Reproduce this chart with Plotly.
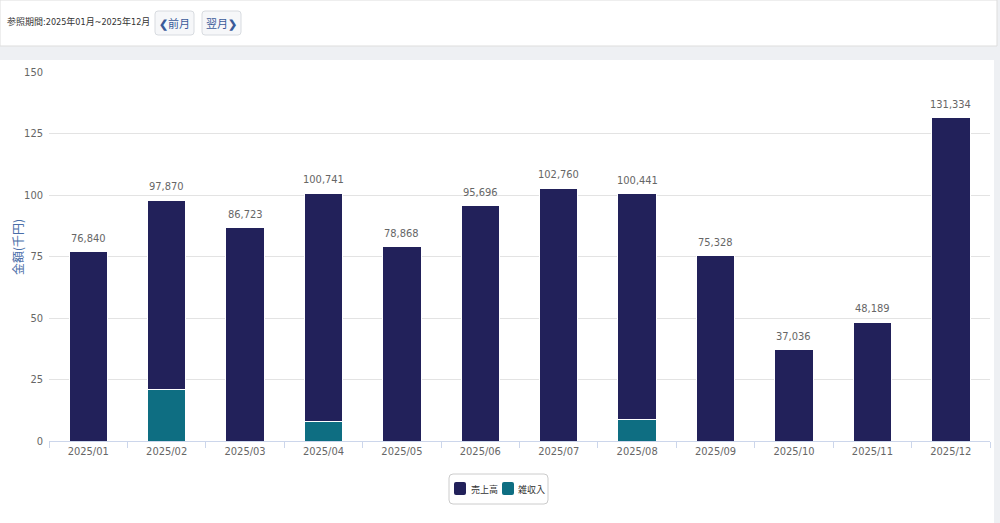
import plotly.graph_objects as go

months = ["2025/01", "2025/02", "2025/03", "2025/04", "2025/05", "2025/06",
          "2025/07", "2025/08", "2025/09", "2025/10", "2025/11", "2025/12"]
totals = [76840, 97870, 86723, 100741, 78868, 95696, 102760, 100441, 75328, 37036, 48189, 131334]
misc_income = [0, 21100, 0, 7800, 0, 0, 0, 8900, 0, 0, 0, 0]
sales = [t - m for t, m in zip(totals, misc_income)]
total_labels = [f"{t:,}" for t in totals]
series_names = ["売上高", "雑収入"]

NAVY = "#22215a"
TEAL = "#0e6e82"
FONT = "DejaVu Sans Condensed, Noto Sans CJK JP, sans-serif"
JP = "Noto Sans CJK JP, sans-serif"

W, H = 1000, 523
L, R, T, B = 49, 10, 72, 82
PW, PH = W - L - R, H - T - B


def px(x):
    return (x - L) / PW


def py(y):
    return (H - B - y) / PH


def rrect(x0, y0, x1, y1, r=3):
    """rounded rectangle path in paper coords from pixel coords"""
    rx, ry = r / PW, r / PH
    X0, X1, Y0, Y1 = px(x0), px(x1), py(y1), py(y0)
    return (f"M {X0+rx},{Y0} L {X1-rx},{Y0} Q {X1},{Y0} {X1},{Y0+ry} "
            f"L {X1},{Y1-ry} Q {X1},{Y1} {X1-rx},{Y1} L {X0+rx},{Y1} "
            f"Q {X0},{Y1} {X0},{Y1-ry} L {X0},{Y0+ry} Q {X0},{Y0} {X0+rx},{Y0} Z")


fig = go.Figure()
fig.add_trace(go.Bar(
    x=months, y=[m / 1000 for m in misc_income], name=series_names[1],
    marker=dict(color=TEAL, line=dict(color="white", width=1)),
    showlegend=False, hoverinfo="skip"))
fig.add_trace(go.Bar(
    x=months, y=[s / 1000 for s in sales], name=series_names[0],
    marker=dict(color=NAVY, line=dict(color="white", width=1)),
    showlegend=False, hoverinfo="skip"))

shapes = [
    dict(type="rect", xref="paper", yref="paper", x0=px(0), x1=px(997), y0=py(0), y1=py(46),
         fillcolor="white", line=dict(color="#dddddd", width=1), layer="below"),
    dict(type="rect", xref="paper", yref="paper", x0=px(0), x1=px(994), y0=py(60), y1=py(523),
         fillcolor="white", line=dict(width=0), layer="below"),
    dict(type="path", xref="paper", yref="paper", path=rrect(155, 11, 194, 35),
         fillcolor="#f6f7f9", line=dict(color="#d8dbe0", width=1)),
    dict(type="path", xref="paper", yref="paper", path=rrect(202, 11, 241, 35),
         fillcolor="#f6f7f9", line=dict(color="#d8dbe0", width=1)),
    # legend box
    dict(type="path", xref="paper", yref="paper", path=rrect(449, 474, 548, 504, 4),
         fillcolor="white", line=dict(color="#cccccc", width=1)),
]

annotations = [
    dict(text="参照期間:2025年01月~2025年12月", xref="paper", yref="paper", x=px(5), y=py(22),
         xanchor="left", yanchor="middle", showarrow=False,
         font=dict(family=FONT, size=9, color="#333333")),
    dict(text="<b>❮</b>前月", xref="paper", yref="paper", x=px(174.5), y=py(23),
         xanchor="center", yanchor="middle", showarrow=False,
         font=dict(family=JP, size=11, color="#3a5a99")),
    dict(text="翌月<b>❯</b>", xref="paper", yref="paper", x=px(221.5), y=py(23),
         xanchor="center", yanchor="middle", showarrow=False,
         font=dict(family=JP, size=11, color="#3a5a99")),
    dict(text="金額(千円)", xref="paper", yref="paper", x=px(17), y=py(247),
         xanchor="center", yanchor="middle", textangle=-90, showarrow=False,
         font=dict(family=JP, size=12, color="#4a6ea8")),
]

# total labels above each stacked bar (data coordinates)
for m, t, lab in zip(months, totals, total_labels):
    annotations.append(dict(x=m, y=t / 1000, xref="x", yref="y", text=lab,
                            showarrow=False, yanchor="bottom", yshift=5,
                            font=dict(family=FONT, size=11, color="#666666")))

# compact legend
legend_items = [(series_names[0], NAVY, 454, 469), (series_names[1], TEAL, 502, 516)]
for name, color, sx, tx in legend_items:
    shapes.append(dict(type="path", xref="paper", yref="paper",
                       path=rrect(sx, 482, sx + 12, 495, 2),
                       fillcolor=color, line=dict(width=0)))
    annotations.append(dict(text=name, xref="paper", yref="paper", x=px(tx), y=py(489),
                            xanchor="left", yanchor="middle", showarrow=False,
                            font=dict(family=JP, size=9, color="#333333")))

fig.update_layout(
    width=W, height=H,
    margin=dict(l=L, r=R, t=T, b=B, autoexpand=False),
    barmode="stack", bargap=0.51,
    paper_bgcolor="#eef0f3", plot_bgcolor="white",
    font=dict(family=FONT, size=11, color="#666666"),
    shapes=shapes, annotations=annotations,
    showlegend=False,
    xaxis=dict(type="category", range=[-0.5, 11.5], showgrid=False, showline=True,
               linecolor="#ccd6eb", ticks="outside", tickson="boundaries", ticklen=6,
               tickcolor="#ccd6eb",
               tickfont=dict(family=FONT, size=11, color="#666666")),
    yaxis=dict(range=[0, 150], tickvals=[0, 25, 50, 75, 100, 125, 150],
               showgrid=True, gridcolor="#e3e3e3", zeroline=False, showline=False,
               ticks="", ticklabelstandoff=5,
               tickfont=dict(family=FONT, size=11, color="#666666")),
)

fig.write_html("out.html")
